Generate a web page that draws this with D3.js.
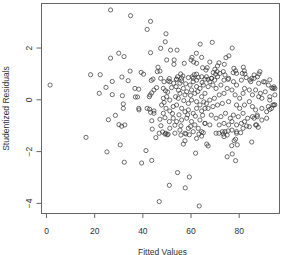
<!DOCTYPE html>
<html>
<head>
<meta charset="utf-8">
<script src="https://cdn.jsdelivr.net/npm/d3@7"></script>
<style>
  body { margin: 0; background: #fff; }
  svg { display: block; font-family: "Liberation Sans", Arial, sans-serif; }
</style>
</head>
<body>
<svg id="chart" width="286" height="255"></svg>
<script>
// fitted values and studentized residuals (left sparse part)
const fittedSparse = [1.7, 16.6, 18.5, 22.5, 22.1, 24.9, 25.3, 25.9, 26.8, 26.8, 27.5, 27.5, 28.8, 30.2, 30.3, 30.8,
  31.4, 31.5, 31.7, 32.1, 32.1, 32.4, 32.5, 32.7, 34.1, 34.9, 35.1, 36.9, 37.1, 38.0, 38.5, 38.5, 38.6, 39.5, 39.7,
  40.5, 41.5, 42.0, 42.0, 43.0, 43.4, 43.4, 43.7, 43.9, 43.2, 42.9, 44.8, 45.9, 44.8, 44.8, 43.4, 43.9, 43.9, 44.1,
  45.6, 46.2, 46.5, 47.0, 47.0, 47.3, 47.3, 47.6, 47.6, 47.7, 48.4, 48.7, 49.0, 49.0, 49.5, 49.7, 49.8, 50.1, 50.1,
  50.5, 50.7, 50.7, 51.2];
const residSparse = [0.55, -1.47, 0.95, 0.95, 0.23, 0.46, -2.03, -0.79, 3.45, 1.59, 0.69, 0.18, -0.62, 1.78, -0.98, -1.76,
  -1.04, 0.86, 0.14, -0.18, -0.35, 1.65, -2.43, -0.99, 0.72, 1.09, 3.23, 0.42, 0.09, 0.09, 0.39, -0.35, -0.41, 1.04, -2.46,
  0.97, -1.98, 2.70, -0.35, -0.38, 3.01, 1.80, 0.73, 0.25, 0.17, 0.10, 0.36, 0.45, -0.45, -0.54, -0.50, -0.83, -2.36, -1.15,
  -1.48, 1.07, 1.24, -1.31, -3.95, 1.09, -0.77, 1.97, 0.81, -1.02, -1.26, -0.54, 0.68, -0.12, 2.22, -1.31, 2.53, 1.52, 0.10,
  0.28, 0.71, -1.35, -3.32];

// middle of the cloud (fitted 48 - 66)
const fittedMid = [51.4, 54.2, 56.3, 59.1, 61.1, 62.5, 64.6, 66.0, 48.7, 49.6, 52.1, 48.7, 51.4, 54.0, 55.6, 57.0, 55.6,
  54.9, 57.7, 58.4, 59.8, 61.1, 62.5, 60.4, 61.8, 63.9, 65.3, 66.0, 64.6, 60.4, 59.1, 62.5, 63.9, 48.0, 49.8, 51.4, 52.8,
  54.2, 56.3, 57.7, 59.1, 61.1, 62.5, 64.6, 66.0, 49.4, 51.2, 52.8, 54.2, 56.3, 58.4, 60.4, 61.8, 63.9, 66.0, 51.4, 53.5,
  55.6, 57.7, 59.1, 61.1, 63.2, 64.6, 53.0, 55.0, 56.8, 58.0, 60.0, 61.5, 63.0, 64.8, 57.2, 53.8, 65.5, 52.5, 55.2, 58.8,
  62.0, 65.0, 60.0, 56.0, 53.5];
const residMid = [0.68, 0.78, 0.71, 0.84, 0.81, 0.74, 0.87, 0.78, 0.42, 0.33, 0.45, 0.04, -0.03, 0.49, 0.62, 0.42, 0.23,
  0.04, 0.17, 0.29, 0.55, 0.68, 0.49, 0.36, 0.23, 0.42, 0.55, 0.23, 0.10, -0.03, -0.16, -0.09, -0.22, -0.22, -0.35, -0.45, -0.28,
  -0.22, -0.35, -0.48, -0.41, -0.54, -0.35, -0.45, -0.35, -0.71, -0.86, -0.73, -0.86, -0.80, -0.73, -0.86, -0.99, -0.80, -0.93,
  -1.12, -1.31, -1.19, -1.31, -1.12, -1.25, -1.12, -1.25, 0.62, 0.35, 0.90, 0.60, 0.15, 0.95, 0.30, 0.65, -0.05, 0.10, -0.10,
  -0.55, -0.60, -0.60, -0.65, -0.62, -1.05, -1.02, -1.00];

// right part of the cloud (fitted 66 - 96)
const fittedRight = [66.6, 68.6, 68.0, 70.0, 71.2, 69.3, 67.3, 70.6, 72.6, 73.9, 75.8, 77.8, 79.1, 81.1, 83.1, 85.0, 86.4,
  88.3, 90.3, 92.3, 94.2, 94.6, 87.0, 89.0, 91.0, 92.9, 94.2, 92.3, 89.6, 88.3, 85.7, 84.4, 82.4, 81.8, 80.4, 78.5, 77.2,
  75.2, 73.9, 71.9, 69.9, 68.0, 66.6, 67.3, 69.3, 71.2, 73.2, 75.8, 79.1, 80.4, 82.4, 84.4, 85.7, 87.0, 89.6, 91.6, 93.6,
  68.6, 70.6, 72.6, 74.5, 76.5, 77.8, 79.8, 81.8, 83.7, 85.7, 87.7, 89.6, 91.6, 66.0, 68.0, 71.9, 73.9, 75.8, 77.2, 79.1,
  81.1, 82.4, 84.4, 87.0, 86.4, 70.6, 73.2, 75.2, 77.2, 79.1, 81.8, 90.9, 93.8, 95.0, 92.9, 94.6, 92.9, 95.0];
const residRight = [0.87, 0.81, 0.68, 0.74, 0.87, 0.55, 0.49, 0.42, 0.55, 0.74, 0.81, 0.68, 0.55, 0.74, 0.84, 0.68, 0.81,
  0.62, 0.68, 0.55, 0.42, 0.48, 0.36, 0.23, 0.29, 0.10, -0.22, -0.28, 0.04, 0.10, 0.17, 0.36, 0.42, 0.23, 0.04, 0.17, 0.36,
  0.42, 0.23, 0.17, 0.04, -0.03, -0.16, -0.35, -0.28, -0.22, -0.16, -0.09, -0.22, -0.35, -0.22, -0.09, -0.28, -0.41, -0.35, -0.48, -0.35,
  -0.61, -0.73, -0.67, -0.54, -0.73, -0.61, -0.67, -0.54, -0.73, -0.67, -0.61, -0.80, -0.73, -0.93, -0.99, -0.99, -0.93, -0.99, -0.86, -0.99,
  -0.93, -0.86, -1.06, -0.99, -0.73, -1.31, -1.25, -1.38, -1.19, -1.25, -1.12, 0.67, 0.44, 0.17, -0.03, -0.22, 0.75, 0.42];

// upper band (residuals above ~0.75)
const fittedUpper = [64.0, 51.7, 54.4, 62.4, 64.6, 60.6, 60.2, 61.3, 62.5, 53.2, 53.1, 57.4, 65.0, 55.9, 54.6, 60.7, 62.5,
  63.2, 44.4, 51.2, 54.2, 56.3, 69.0, 77.3, 75.9, 74.7, 68.0, 71.8, 71.2, 74.0, 66.9, 66.4, 70.1, 69.4, 71.0, 72.2, 70.4,
  73.6, 74.3, 78.0, 78.7, 77.7, 79.1, 81.9, 82.3, 81.5, 82.6, 86.4, 87.8, 88.8, 88.4, 84.6, 85.4, 68.8, 67.3, 75.6];
const residUpper = [2.13, 1.90, 1.90, 1.78, 1.62, 1.62, 1.52, 1.44, 1.39, 1.52, 1.35, 1.39, 1.22, 0.98, 0.87, 0.87, 0.97,
  0.85, 0.78, 0.80, 0.77, 0.81, 2.20, 1.98, 1.68, 1.61, 1.44, 1.41, 1.29, 1.35, 1.22, 1.13, 1.16, 1.03, 1.07, 1.00, 0.97,
  1.07, 0.94, 1.20, 1.10, 1.03, 1.00, 1.24, 1.10, 1.00, 0.98, 0.94, 0.87, 1.07, 0.98, 0.75, 0.81, 0.81, 0.77, 0.77];

// lower band (residuals below ~ -1.2)
const fittedLower = [49.4, 50.3, 56.0, 58.1, 59.5, 57.0, 57.7, 62.5, 63.5, 64.6, 65.3, 54.6, 59.5, 57.8, 62.1, 63.6,
  71.8, 73.6, 74.3, 75.6, 73.9, 79.1, 80.8, 78.7, 78.1, 79.4, 77.1, 85.4, 77.3, 75.2, 78.7, 66.7, 67.3, 83.3, 87.4, 88.1,
  87.7, 92.9, 95.0];
const residLower = [-1.34, -1.37, -1.38, -1.34, -1.37, -1.73, -1.60, -1.51, -1.34, -1.42, -1.29, -2.83, -3.00, -3.42, -2.08, -4.12,
  -1.31, -1.34, -1.25, -1.22, -1.44, -1.31, -1.29, -1.54, -1.60, -1.76, -1.79, -1.65, -2.11, -2.22, -2.37, -1.73, -1.80, -1.03, -0.99, -1.08,
  -0.67, -0.39, -0.21];

const xTicks = [0, 20, 40, 60, 80];
const yTicks = [-4, -2, 0, 2];

const fitted = [...fittedSparse, ...fittedMid, ...fittedRight, ...fittedUpper, ...fittedLower];
const resid = [...residSparse, ...residMid, ...residRight, ...residUpper, ...residLower];
const points = fitted.map((f, i) => ({ f: f, r: resid[i] }));

const svg = d3.select('#chart');
const L = 41.5, R = 279.5, T = 3.5, B = 213.5;

const x = d3.scaleLinear().domain([-1.87, 96.93]).range([L, R]);
const y = d3.scaleLinear().domain([-4.41, 3.70]).range([B, T]);

// points
svg.append('g')
  .selectAll('circle')
  .data(points)
  .join('circle')
  .attr('cx', d => x(d.f))
  .attr('cy', d => y(d.r))
  .attr('r', 2.1)
  .attr('fill', 'none')
  .attr('stroke', '#333')
  .attr('stroke-width', 0.7);

// box
svg.append('rect')
  .attr('x', L).attr('y', T)
  .attr('width', R - L).attr('height', B - T)
  .attr('fill', 'none')
  .attr('stroke', '#666')
  .attr('stroke-width', 1);

// x axis
const xAxis = svg.append('g')
  .attr('transform', `translate(0,${B})`)
  .call(d3.axisBottom(x).tickValues(xTicks).tickSize(4.5).tickPadding(10.3));
xAxis.select('.domain').remove();
xAxis.selectAll('line').attr('stroke', '#666');
xAxis.selectAll('text').attr('fill', '#333').style('font-size', '8.5px');

// y axis, labels turned like in R
const yAxis = svg.append('g')
  .attr('transform', `translate(${L},0)`)
  .call(d3.axisLeft(y).tickValues(yTicks).tickSize(5));
yAxis.select('.domain').remove();
yAxis.selectAll('line').attr('stroke', '#666');
yAxis.selectAll('text')
  .attr('fill', '#333')
  .style('font-size', '8.5px')
  .attr('text-anchor', 'middle')
  .attr('transform', 'rotate(-90)')
  .attr('x', 0)
  .attr('y', -9.6)
  .attr('dy', 0);

// axis titles
svg.append('text')
  .attr('x', (L + R) / 2 + 2)
  .attr('y', 254.5)
  .attr('text-anchor', 'middle')
  .attr('fill', '#333')
  .style('font-size', '8.5px')
  .text('Fitted Values');

svg.append('text')
  .attr('transform', `translate(9.3,${(T + B) / 2}) rotate(-90)`)
  .attr('text-anchor', 'middle')
  .attr('fill', '#333')
  .style('font-size', '8.5px')
  .text('Studentized Residuals');
</script>
</body>
</html>
